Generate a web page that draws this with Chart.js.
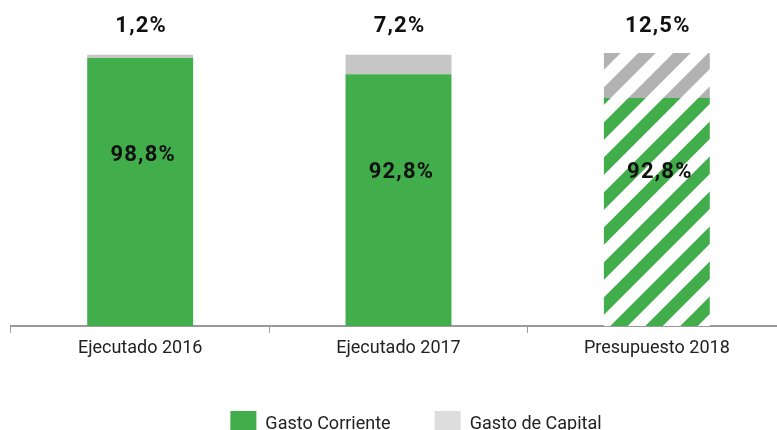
<!DOCTYPE html>
<html>
<head>
<meta charset="utf-8">
<script src="https://cdn.jsdelivr.net/npm/chart.js@4.4.0/dist/chart.umd.min.js"></script>
<style>
  html, body { margin: 0; padding: 0; overflow: hidden; background: #fff; }
  #wrap { position: absolute; left: 0; top: 0; }
</style>
</head>
<body>
<div id="wrap"><canvas id="chart" width="821" height="447"></canvas></div>
<script>
// data
const categories = ['Ejecutado 2016', 'Ejecutado 2017', 'Presupuesto 2018'];
const gastoCorriente = [98.8, 92.8, 84.0];
const gastoCapital = [1.2, 7.2, 16.6];
const corrienteLabels = ['98,8%', '92,8%', '92,8%'];
const capitalLabels = ['1,2%', '7,2%', '12,5%'];
const labelValues = [98.8, 92.8, 92.8]; // where the inner labels sit

const green = '#42ad4b';
const grey = '#c6c6c6';

// striped fill for the budget bar
function stripes(color) {
  const size = 35;
  const c = document.createElement('canvas');
  c.width = size;
  c.height = size;
  const g = c.getContext('2d');
  g.fillStyle = '#fff';
  g.fillRect(0, 0, size, size);
  g.strokeStyle = color;
  g.lineWidth = size / Math.SQRT2 / 2;
  g.beginPath();
  for (let k = 0; k <= 2; k++) {
    const d = k * size;
    g.moveTo(d + size, -size);
    g.lineTo(d - 2 * size, 2 * size);
  }
  g.stroke();
  return g.createPattern(c, 'repeat');
}

const ctx = document.getElementById('chart').getContext('2d');

const valueLabels = {
  id: 'valueLabels',
  afterDatasetsDraw(chart) {
    const c = chart.ctx;
    const meta = chart.getDatasetMeta(0);
    const y = chart.scales.y;
    c.save();
    c.font = 'bold 22px Roboto';
    c.letterSpacing = '1.2px';
    c.fillStyle = '#111';
    c.textAlign = 'center';
    c.textBaseline = 'middle';
    meta.data.forEach((bar, i) => {
      c.fillText(capitalLabels[i], bar.x + 1, chart.chartArea.top - 26);
      c.fillText(corrienteLabels[i], bar.x + 3, y.getPixelForValue(labelValues[i]) + 98);
    });
    c.restore();
  }
};

new Chart(ctx, {
  type: 'bar',
  data: {
    labels: categories,
    datasets: [
      {
        label: 'Gasto Corriente',
        data: gastoCorriente,
        backgroundColor: [green, green, stripes(green)],
        borderWidth: 0
      },
      {
        label: 'Gasto de Capital',
        data: gastoCapital,
        backgroundColor: [grey, grey, stripes('#b2b2b2')],
        borderWidth: 0
      }
    ]
  },
  options: {
    responsive: false,
    animation: false,
    layout: { padding: { left: 11, top: 52, right: 0, bottom: 0 } },
    datasets: { bar: { categoryPercentage: 1, barPercentage: 0.41 } },
    scales: {
      x: {
        stacked: true,
        grid: { drawOnChartArea: false, color: '#999', tickLength: 7 },
        border: { color: '#999', width: 2 },
        ticks: { color: '#222', font: { family: 'Roboto', size: 18 }, padding: 5 },
        afterFit(scale) { scale.height += 2.5; }
      },
      y: {
        stacked: true,
        min: 0,
        max: 101,
        position: 'right',
        grid: { display: false },
        border: { display: false },
        ticks: { display: false },
        afterFit(scale) { scale.width = 35; }
      }
    },
    plugins: {
      tooltip: { enabled: false },
      legend: {
        position: 'bottom',
        labels: {
          boxWidth: 26,
          boxHeight: 26,
          padding: 44,
          color: '#222',
          font: { family: 'Roboto', size: 18 },
          generateLabels(chart) {
            const fills = [green, '#dddddd'];
            return chart.data.datasets.map((ds, i) => ({
              text: ds.label,
              fillStyle: fills[i],
              strokeStyle: fills[i],
              lineWidth: 0,
              fontColor: '#222',
              datasetIndex: i
            }));
          }
        }
      }
    }
  },
  plugins: [valueLabels]
});
</script>
</body>
</html>
